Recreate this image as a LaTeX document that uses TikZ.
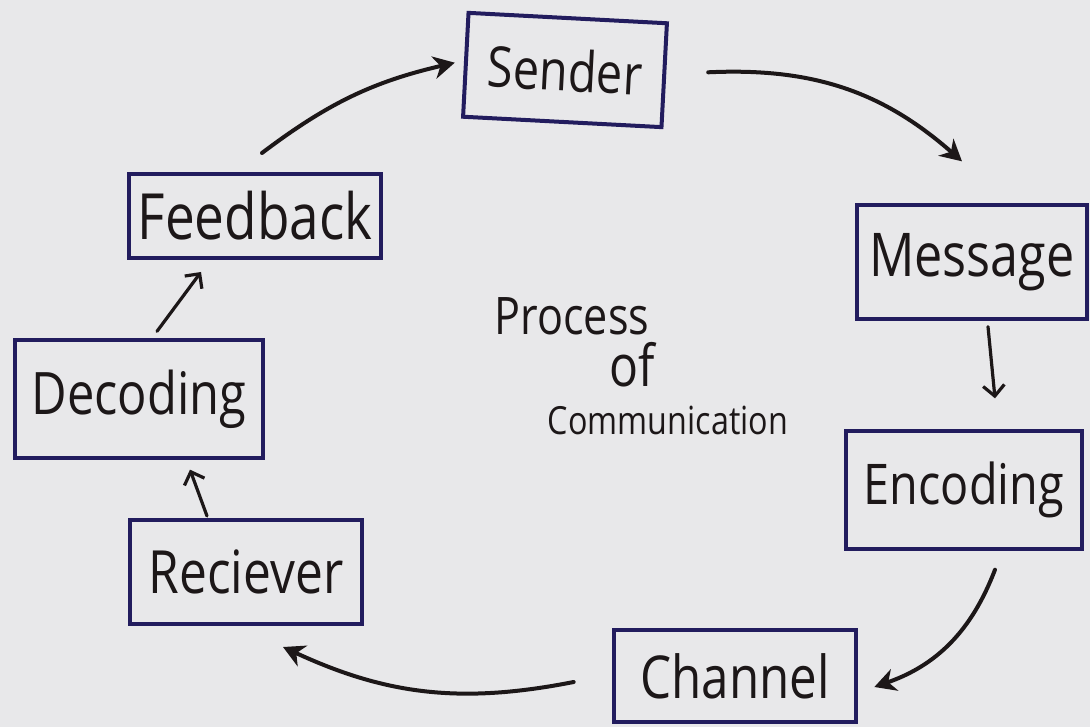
\documentclass[tikz,border=0pt]{standalone}
\usepackage{fontspec}
\setmainfont{Open Sans}
\usetikzlibrary{arrows.meta,calc}
\definecolor{paper}{HTML}{E8E8EA}
\definecolor{ink}{HTML}{221C5E}
\definecolor{pen}{HTML}{1C1718}
% text scaled to a given width (in pt), a little taller than normal
\newcommand\hw[2]{\scalebox{1}[1.2]{\resizebox{#1pt}{!}{#2}}}
\begin{document}
\begin{tikzpicture}[x=0.75pt,y=-0.75pt,
  box/.style={draw=ink, line width=3pt, inner sep=0pt, text=pen},
  longarr/.style={draw=pen, line width=3pt, line cap=round,
    -{Stealth[length=16pt,width=17pt,inset=5pt]}},
  shortarr/.style={draw=pen, line width=2.4pt, line cap=round,
    -{Straight Barb[length=8pt,width=16pt,line width=2.4pt]}},
  caption/.style={text=pen, inner sep=0pt}]
\fill[paper] (0,0) rectangle (1090,727);
\useasboundingbox (0,0) rectangle (1090,727);

% stages of the cycle
\node[box, rotate=-3, minimum width=149pt, minimum height=78pt] (snd) at (565,70) {\hw{116}{Sender}};
\node[box, minimum width=173pt, minimum height=85pt] (msg) at (972,262) {\hw{154}{Message}};
\node[box, minimum width=177pt, minimum height=88pt] (enc) at (964,490) {\hw{150}{Encoding}};
\node[box, minimum width=182pt, minimum height=69pt] (ch) at (735,676) {\hw{142}{Channel}};
\node[box, minimum width=174pt, minimum height=78pt] (rc) at (246,572) {\hw{146}{Reciever}};
\node[box, minimum width=186pt, minimum height=88pt] (dec) at (139,399) {\hw{161}{Decoding}};
\node[box, minimum width=189pt, minimum height=63pt] (fb) at (255,216) {\hw{176}{Feedback}};

% title in the middle
\node[caption] (t1) at (572,316) {\hw{116}{Process}};
\node[caption] (t2) at (632,365) {\hw{34}{of}};
\node[caption] (t3) at (668,420) {\hw{180}{Communication}};

% connectors
\draw[longarr] ($(fb.north)+(7,-19)$) to[bend left=12] ($(snd.west)+(-9,-2)$);
\draw[longarr] ($(snd.east)+(42,-3)$) to[bend left=22] ($(msg.north)+(-10,-42)$);
\draw[shortarr] ($(msg.south)+(16,6)$) -- ($(enc.north)+(31,-31)$);
\draw[longarr] ($(enc.south)+(31,19)$) to[bend left=25] ($(ch.east)+(16,11)$);
\draw[longarr] ($(ch.west)+(-38,6)$) to[bend left=18] ($(rc.south)+(37,21)$);
\draw[shortarr] ($(rc.north)+(-39,-2)$) -- ($(dec.south)+(51,10)$);
\draw[shortarr] ($(dec.north)+(18,-7)$) -- ($(fb.south)+(-54,12)$);
\end{tikzpicture}
\end{document}
